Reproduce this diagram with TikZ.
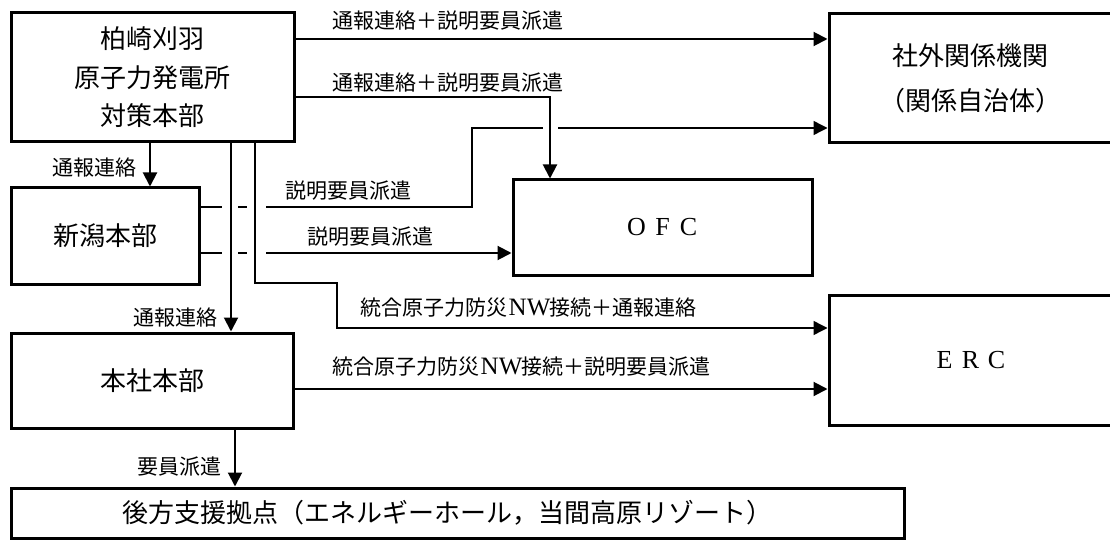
\documentclass[tikz,border=0pt]{standalone}
\usepackage{fontspec}
\setmainfont{Noto Sans CJK JP}
\newfontfamily\serifl{Liberation Serif}
\usetikzlibrary{arrows.meta}
\newcommand\fwc[1]{\makebox[1em]{\serifl #1}}
\newcommand\fwn[1]{\makebox[1em]{\fontsize{25}{25}\serifl #1}}
\tikzset{
  box/.style={draw, line width=3pt, rectangle, inner sep=0pt, align=center,
    font=\fontsize{26}{38.5}\selectfont},
  conn/.style={line width=2pt},
  thinconn/.style={line width=1.4pt},
  arr/.style={-{Triangle[length=14pt,width=14pt]}},
  lbl/.style={inner sep=0pt, font=\fontsize{21}{25}\selectfont}
}
\begin{document}
\begin{tikzpicture}[x=1pt,y=-1pt]
\useasboundingbox (0,0) rectangle (1110,540);
% boxes
\node[box, minimum width=283pt, minimum height=129pt] (A) at (152.5,77.5) {柏崎刈羽\\原子力発電所\\対策本部};
\node[box, minimum width=188pt, minimum height=96pt] (B) at (105,236) {新潟本部};
\node[box, minimum width=282pt, minimum height=95pt] (C) at (152,380.5) {本社本部};
\node[box, minimum width=893pt, minimum height=50pt] (D) at (457.5,513) {後方支援拠点（エネルギーホール，当間高原リゾート）\hspace*{20pt}};
\node[box, minimum width=283pt, minimum height=129pt, font=\fontsize{26}{45}\selectfont] (E) at (970.5,78.5) {社外関係機関\\（関係自治体）};
\node[box, minimum width=299pt, minimum height=95pt] (F) at (662.5,227.5) {\fwc{O}\fwc{F}\fwc{C}};
\node[box, minimum width=283pt, minimum height=130pt] (G) at (970.5,360) {\fwc{E}\fwc{R}\fwc{C}};

% coordinates for bends and crossing gaps
\coordinate (f1) at (550,97);
\coordinate (g1) at (222,207);
\coordinate (g2) at (238,207);
\coordinate (g3) at (247,207);
\coordinate (g4) at (266,207);
\coordinate (b1) at (472,207);
\coordinate (b2) at (472,128);
\coordinate (b3) at (543,128);
\coordinate (b4) at (558,128);
\coordinate (h1) at (222,253);
\coordinate (h2) at (238,253);
\coordinate (h3) at (247,253);
\coordinate (h4) at (266,253);
\coordinate (v1) at (231,0);
\coordinate (v2) at (255,283);
\coordinate (v3) at (337,283);
\coordinate (v4) at (337,328);
\coordinate (v5) at (150,0);
\coordinate (v6) at (235,0);

% A -> E
\draw[conn, arr] (A.east |- 0,39) -- (E.west |- 0,39);
\node[lbl, anchor=west] (l1) at (332,21) {通報連絡＋説明要員派遣};
% A -> F
\draw[conn, arr] (A.east |- f1) -- (f1) -- (F.north -| f1);
\node[lbl, anchor=west] (l2) at (332,83) {通報連絡＋説明要員派遣};
% B -> E
\draw[thinconn] (B.east |- g1) -- (g1);
\draw[thinconn] (g2) -- (g3);
\draw[thinconn] (g4) -- (b1) -- (b2) -- (b3);
\draw[thinconn, arr] (b4) -- (E.west |- b4);
\node[lbl, anchor=west] (l3) at (285,191) {説明要員派遣};
% B -> F
\draw[conn] (B.east |- h1) -- (h1);
\draw[conn] (h2) -- (h3);
\draw[conn, arr] (h4) -- (F.west |- h4);
\node[lbl, anchor=west] (l4) at (307,237) {説明要員派遣};
% A -> B
\draw[conn, arr] (A.south -| v5) -- (B.north -| v5);
\node[lbl, anchor=east] (l5) at (137,168) {通報連絡};
% A -> C
\draw[conn, arr] (A.south -| v1) -- (C.north -| v1);
\node[lbl, anchor=east] (l6) at (218,318) {通報連絡};
% A -> G
\draw[thinconn, arr] (A.south -| v2) -- (v2) -- (v3) -- (v4) -- (G.west |- v4);
\node[lbl, anchor=west] (l7) at (360,308) {統合原子力防災\fwn{N}\fwn{W}接続＋通報連絡};
% C -> G
\draw[conn, arr] (C.east |- 0,389) -- (G.west |- 0,389);
\node[lbl, anchor=west] (l8) at (332,367) {統合原子力防災\fwn{N}\fwn{W}接続＋説明要員派遣};
% C -> D
\draw[conn, arr] (C.south -| v6) -- (D.north -| v6);
\node[lbl, anchor=east] (l9) at (222,467) {要員派遣};
\end{tikzpicture}
\end{document}
